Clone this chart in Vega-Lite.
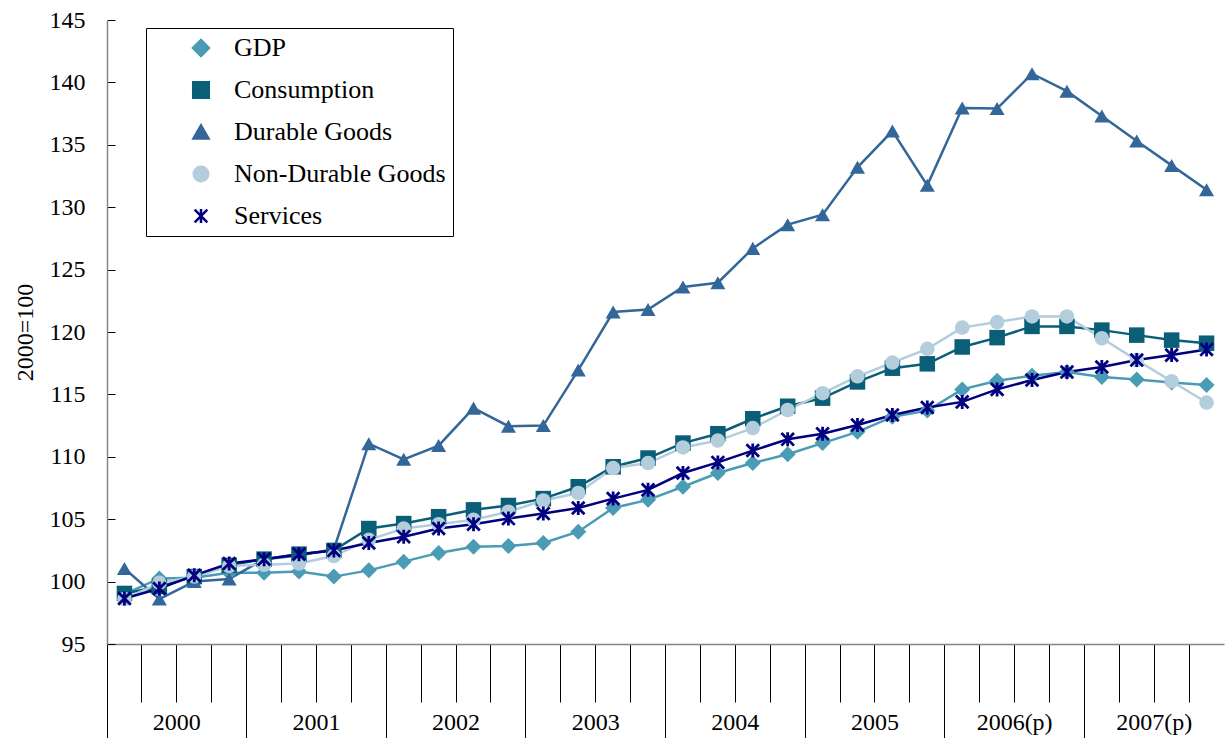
{
  "$schema": "https://vega.github.io/schema/vega-lite/v6.json",
  "width": 1117,
  "height": 624,
  "autosize": "none",
  "padding": {"left": 107, "top": 20, "right": 1, "bottom": 94},
  "background": "white",
  "config": {"view": {"stroke": null}, "font": "Liberation Serif", "legend": {"strokeWidth": 1}},
  "data": {"values": [
    {"q": "2000 Q1", "GDP": 99.0, "Consumption": 99.05, "Durable Goods": 101.05, "Non-Durable Goods": 98.6, "Services": 98.65},
    {"q": "2000 Q2", "GDP": 100.25, "Consumption": 99.6, "Durable Goods": 98.6, "Non-Durable Goods": 99.9, "Services": 99.45},
    {"q": "2000 Q3", "GDP": 100.3, "Consumption": 100.4, "Durable Goods": 100.0, "Non-Durable Goods": 100.4, "Services": 100.5},
    {"q": "2000 Q4", "GDP": 100.7, "Consumption": 101.3, "Durable Goods": 100.2, "Non-Durable Goods": 101.25, "Services": 101.45},
    {"q": "2001 Q1", "GDP": 100.7, "Consumption": 101.8, "Durable Goods": 101.8, "Non-Durable Goods": 101.35, "Services": 101.8},
    {"q": "2001 Q2", "GDP": 100.8, "Consumption": 102.2, "Durable Goods": 102.1, "Non-Durable Goods": 101.45, "Services": 102.2},
    {"q": "2001 Q3", "GDP": 100.4, "Consumption": 102.5, "Durable Goods": 102.6, "Non-Durable Goods": 102.05, "Services": 102.5},
    {"q": "2001 Q4", "GDP": 100.9, "Consumption": 104.25, "Durable Goods": 111.05, "Non-Durable Goods": 103.35, "Services": 103.1},
    {"q": "2002 Q1", "GDP": 101.6, "Consumption": 104.65, "Durable Goods": 109.8, "Non-Durable Goods": 104.25, "Services": 103.6},
    {"q": "2002 Q2", "GDP": 102.3, "Consumption": 105.2, "Durable Goods": 110.9, "Non-Durable Goods": 104.6, "Services": 104.25},
    {"q": "2002 Q3", "GDP": 102.8, "Consumption": 105.75, "Durable Goods": 113.9, "Non-Durable Goods": 104.95, "Services": 104.6},
    {"q": "2002 Q4", "GDP": 102.85, "Consumption": 106.1, "Durable Goods": 112.45, "Non-Durable Goods": 105.6, "Services": 105.05},
    {"q": "2003 Q1", "GDP": 103.1, "Consumption": 106.65, "Durable Goods": 112.5, "Non-Durable Goods": 106.5, "Services": 105.45},
    {"q": "2003 Q2", "GDP": 104.0, "Consumption": 107.6, "Durable Goods": 116.95, "Non-Durable Goods": 107.1, "Services": 105.9},
    {"q": "2003 Q3", "GDP": 105.9, "Consumption": 109.2, "Durable Goods": 121.6, "Non-Durable Goods": 109.1, "Services": 106.65},
    {"q": "2003 Q4", "GDP": 106.55, "Consumption": 109.9, "Durable Goods": 121.8, "Non-Durable Goods": 109.5, "Services": 107.35},
    {"q": "2004 Q1", "GDP": 107.6, "Consumption": 111.1, "Durable Goods": 123.6, "Non-Durable Goods": 110.75, "Services": 108.7},
    {"q": "2004 Q2", "GDP": 108.7, "Consumption": 111.85, "Durable Goods": 123.95, "Non-Durable Goods": 111.3, "Services": 109.55},
    {"q": "2004 Q3", "GDP": 109.5, "Consumption": 113.05, "Durable Goods": 126.7, "Non-Durable Goods": 112.3, "Services": 110.5},
    {"q": "2004 Q4", "GDP": 110.2, "Consumption": 114.05, "Durable Goods": 128.6, "Non-Durable Goods": 113.75, "Services": 111.4},
    {"q": "2005 Q1", "GDP": 111.1, "Consumption": 114.7, "Durable Goods": 129.4, "Non-Durable Goods": 115.1, "Services": 111.85},
    {"q": "2005 Q2", "GDP": 112.0, "Consumption": 116.0, "Durable Goods": 133.2, "Non-Durable Goods": 116.45, "Services": 112.55},
    {"q": "2005 Q3", "GDP": 113.2, "Consumption": 117.1, "Durable Goods": 136.1, "Non-Durable Goods": 117.55, "Services": 113.35},
    {"q": "2005 Q4", "GDP": 113.7, "Consumption": 117.45, "Durable Goods": 131.75, "Non-Durable Goods": 118.65, "Services": 113.95},
    {"q": "2006(p) Q1", "GDP": 115.4, "Consumption": 118.8, "Durable Goods": 137.95, "Non-Durable Goods": 120.35, "Services": 114.4},
    {"q": "2006(p) Q2", "GDP": 116.1, "Consumption": 119.55, "Durable Goods": 137.9, "Non-Durable Goods": 120.8, "Services": 115.4},
    {"q": "2006(p) Q3", "GDP": 116.5, "Consumption": 120.45, "Durable Goods": 140.7, "Non-Durable Goods": 121.25, "Services": 116.15},
    {"q": "2006(p) Q4", "GDP": 116.8, "Consumption": 120.45, "Durable Goods": 139.3, "Non-Durable Goods": 121.25, "Services": 116.8},
    {"q": "2007(p) Q1", "GDP": 116.4, "Consumption": 120.15, "Durable Goods": 137.3, "Non-Durable Goods": 119.5, "Services": 117.2},
    {"q": "2007(p) Q2", "GDP": 116.2, "Consumption": 119.75, "Durable Goods": 135.3, "Non-Durable Goods": 117.75, "Services": 117.75},
    {"q": "2007(p) Q3", "GDP": 115.95, "Consumption": 119.35, "Durable Goods": 133.35, "Non-Durable Goods": 116.05, "Services": 118.15},
    {"q": "2007(p) Q4", "GDP": 115.75, "Consumption": 119.1, "Durable Goods": 131.4, "Non-Durable Goods": 114.35, "Services": 118.6}
  ]},
  "transform": [
    {"fold": ["GDP", "Consumption", "Durable Goods", "Non-Durable Goods", "Services"], "as": ["s", "v"]}
  ],
  "encoding": {
    "x": {
      "field": "q", "type": "ordinal", "sort": null,
      "scale": {"type": "band", "paddingInner": 0, "paddingOuter": 0},
      "axis": {
        "title": null,
        "bandPosition": 0,
        "domainColor": "#868686", "domainWidth": 1.5,
        "tickColor": "#000000", "tickWidth": 1,
        "tickSize": 94,
        "tickDash": {"condition": {"test": "indexof(datum.value, 'Q1') > 0", "value": [94, 10]}, "value": [58, 60]},
        "labelExpr": "indexof(datum.value, 'Q2') > 0 ? replace(datum.value, ' Q2', '') : ''",
        "labelAngle": 0, "labelAlign": "center", "labelBaseline": "middle", "labelOffset": 17.5,
        "labelFont": "Liberation Serif", "labelFontSize": 24, "labelColor": "#000000",
        "labelPadding": -16, "labelOverlap": false
      }
    },
    "y": {
      "field": "v", "type": "quantitative",
      "scale": {"domain": [95, 145], "nice": false, "zero": false},
      "axis": {
        "title": "2000=100",
        "values": [95, 100, 105, 110, 115, 120, 125, 130, 135, 140, 145],
        "grid": false,
        "tickSize": -8, "tickColor": "#000000", "tickWidth": 1,
        "domainColor": "#868686", "domainWidth": 1.5,
        "labelFont": "Liberation Serif", "labelFontSize": 24, "labelColor": "#000000", "labelPadding": 30,
        "titleFont": "Liberation Serif", "titleFontSize": 24, "titleFontWeight": "normal", "titleColor": "#000000", "titlePadding": 12
      }
    },
    "color": {
      "field": "s", "type": "nominal",
      "scale": {
        "domain": ["GDP", "Consumption", "Durable Goods", "Non-Durable Goods", "Services"],
        "range": ["#4A9BB5", "#0B5E78", "#336699", "#B3CDDD", "#000080"]
      },
      "legend": {
        "title": null,
        "orient": "none", "legendX": 39, "legendY": 8,
        "fillColor": "white", "strokeColor": "#000000",
        "padding": 7, "cornerRadius": 0,
        "labelFont": "Liberation Serif", "labelFontSize": 26, "labelColor": "#000000", "labelLimit": 400,
        "symbolSize": 196, "symbolOffset": 35, "labelOffset": 20, "rowPadding": 16,
        "symbolStrokeWidth": 2.5, "symbolOpacity": 1
      }
    }
  },
  "layer": [
    {"mark": {"type": "line", "strokeWidth": 2.5}},
    {
      "mark": {"type": "point", "filled": true, "opacity": 1},
      "encoding": {
        "shape": {
          "field": "s", "type": "nominal", "legend": null,
          "scale": {
            "domain": ["GDP", "Consumption", "Durable Goods", "Non-Durable Goods", "Services"],
            "range": ["diamond", "square", "triangle-up", "circle", "M0,-1V1M-0.9,-0.9L0.9,0.9M-0.9,0.9L0.9,-0.9"]
          }
        },
        "size": {
          "field": "s", "type": "nominal", "legend": null,
          "scale": {
            "domain": ["GDP", "Consumption", "Durable Goods", "Non-Durable Goods", "Services"],
            "range": [256, 196, 324, 210, 280]
          }
        },
        "stroke": {
          "field": "s", "type": "nominal", "legend": null,
          "scale": {
            "domain": ["GDP", "Consumption", "Durable Goods", "Non-Durable Goods", "Services"],
            "range": ["#4A9BB5", "#0B5E78", "#336699", "#B3CDDD", "#000080"]
          }
        },
        "strokeWidth": {"condition": {"test": "datum.s === 'Services'", "value": 2.8}, "value": 0}
      }
    }
  ]
}
